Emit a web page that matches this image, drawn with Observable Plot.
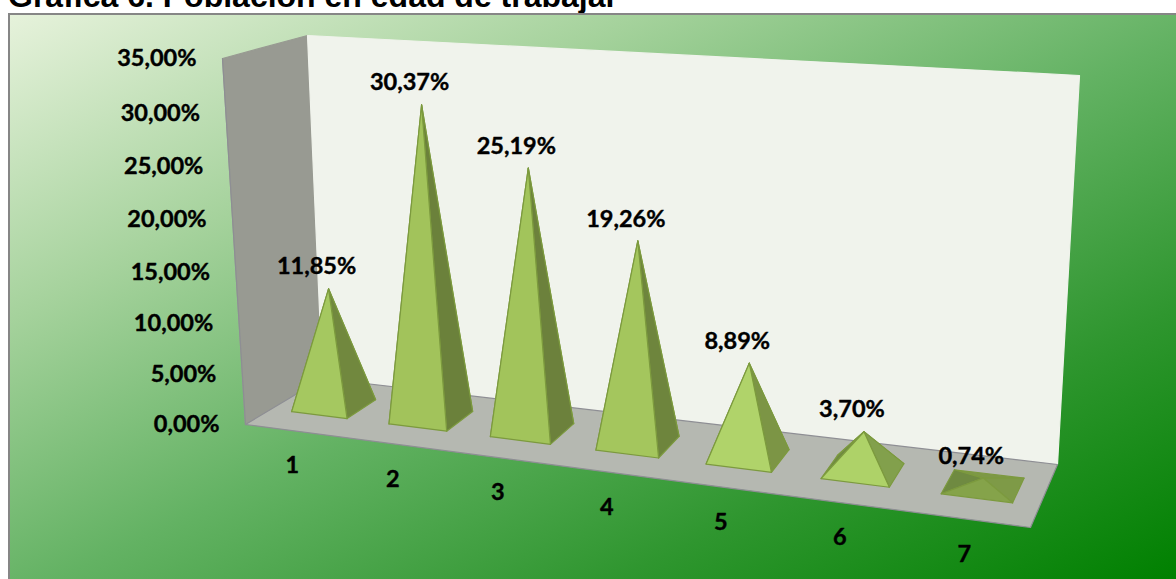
<!DOCTYPE html>
<html><head><meta charset="utf-8">
<script src="https://cdn.jsdelivr.net/npm/d3@7"></script>
<script src="https://cdn.jsdelivr.net/npm/@observablehq/plot@0.6"></script>
<style>
html,body{margin:0;padding:0;background:#fff;overflow:hidden;width:1176px;height:579px}
#title{position:absolute;left:8px;top:-20px;font:bold 32px "Liberation Sans",Arial,sans-serif;color:#000;white-space:nowrap;line-height:32px}
#chart{position:absolute;left:8px;top:13px;width:1168px;height:566px;box-sizing:border-box;border-top:2px solid #868686;border-left:2px solid #868686;overflow:hidden;
background:linear-gradient(to bottom right,#e6f2db 0%,#a5d29c 27%,#63b263 52%,#2f962f 76%,#008000 100%)}
#chart svg{position:absolute;left:-2px;top:-1px;display:block;max-width:none !important;width:1176px;height:566px}
</style></head><body>
<div id="title">Gráfica 6. Población en edad de trabajar</div>
<div id="chart"></div>
<script>
const categories = ["1","2","3","4","5","6","7"];
const values = [11.85,30.37,25.19,19.26,8.89,3.70,0.74];
const valueLabels = ["11,85%","30,37%","25,19%","19,26%","8,89%","3,70%","0,74%"];
const axisValues = [0,5,10,15,20,25,30,35];
const axisLabels = ["0,00%","5,00%","10,00%","15,00%","20,00%","25,00%","30,00%","35,00%"];
const frontFaces = ["#a5c860","#a2c35b","#a2c45b","#a4c65d","#b0d36a","#aed268","#85a34a"];
const rightFaces = ["#71883e","#6b813b","#6c813c","#6e853d","#7c9545","#82a04c","#7e9a47"];
const leftFaces  = ["#6b813b","#6b813b","#6c813c","#6e853d","#7c9545","#6f8a41","#6f8a41"];
const backFaces  = ["#71883e","#6b813b","#6c813c","#6e853d","#7c9545","#82a04c","#7d9846"];

// the room, as seen by the camera
const room = {
  floorFL:[245,424], floorFR:[1030,527], floorBL:[322,378], floorBR:[1057,464],
  topFL:[222,58], topFR:[1052,110], topBL:[307,35], topBR:[1079,75]
};
const maxValue = 35, kDepth = 1.16, kHeight = 1.05;
const lerp = (a,b,t)=>[a[0]+(b[0]-a[0])*t, a[1]+(b[1]-a[1])*t];
// u along categories, d into depth, v the value
function project(u,d,v){
  const s = u/(u+kDepth*(1-u));
  const t0 = v/maxValue, t = t0/(t0+kHeight*(1-t0));
  const floor = lerp(lerp(room.floorFL,room.floorFR,s),lerp(room.floorBL,room.floorBR,s),d);
  const top = lerp(lerp(room.topFL,room.topFR,s),lerp(room.topBL,room.topBR,s),d);
  return lerp(floor,top,t);
}
const rows = [];
let nid = 0;
function poly(pts,fill,stroke){
  const id = nid++;
  [...pts,pts[0]].forEach(p=>rows.push({id,x:p[0],y:p[1],fill,stroke}));
}
// walls and floor
poly([room.topFL,room.topBL,room.floorBL,room.floorFL],"#989a92","#989a92");
poly([room.topFL,room.floorFL],"none","#8e8e94");
poly([room.topBL,room.topBR,room.floorBR,room.floorBL],"#f0f3ec","#f0f3ec");
poly([room.floorFL,room.floorBL,room.floorBR,room.floorFR],"#b5b8b1","#8e8e94");

const d0=.337,d1=.733,du=.082;
const bandCenter = i=>(i+.5)/categories.length;
const tips=[];
values.forEach((v,i)=>{
  const c=bandCenter(i);
  const fl=project(c-du/2,d0,0),fr=project(c+du/2,d0,0),bl=project(c-du/2,d1,0),br=project(c+du/2,d1,0);
  const tip=project(c,(d0+d1)/2,v);
  tips.push({x:tip[0],y:tip[1],label:valueLabels[i]});
  const edge="#7c9a3e";
  poly([bl,br,tip],backFaces[i],edge);
  poly([fl,bl,tip],leftFaces[i],edge);
  poly([fr,br,tip],rightFaces[i],edge);
  poly([fl,fr,tip],frontFaces[i],edge);
});
const font="Lato, Carlito, Calibri, sans-serif";
const axisRows=axisValues.map((v,i)=>{const p=project(0,0,v);return{x:p[0],y:p[1],label:axisLabels[i]};});
const catRows=categories.map((c,i)=>{const p=project(bandCenter(i),0,0);return{x:p[0],y:p[1],label:c};});
const textOpts={text:"label",x:"x",y:"y",fontFamily:font,fontWeight:700,fontSize:23.5,fill:"#000",stroke:"#000",strokeWidth:0.4};
const plot=Plot.plot({
  width:1176,height:566,margin:0,
  x:{domain:[8,1184],range:[0,1176],axis:null},
  y:{domain:[14,580],range:[0,566],axis:null},
  color:{type:"identity"},
  style:{background:"transparent",maxWidth:"none"},
  marks:[
    Plot.line(rows,{x:"x",y:"y",z:"id",fill:"fill",stroke:"stroke",strokeWidth:1.2,curve:"linear",strokeLinejoin:"round"}),
    Plot.text(axisRows,{...textOpts,textAnchor:"end",dx:-26}),
    Plot.text(catRows,{...textOpts,dx:-2,dy:35}),
    Plot.text(tips,{...textOpts,dx:-12,dy:-22})
  ]
});
document.getElementById("chart").appendChild(plot);
</script>
</body></html>
